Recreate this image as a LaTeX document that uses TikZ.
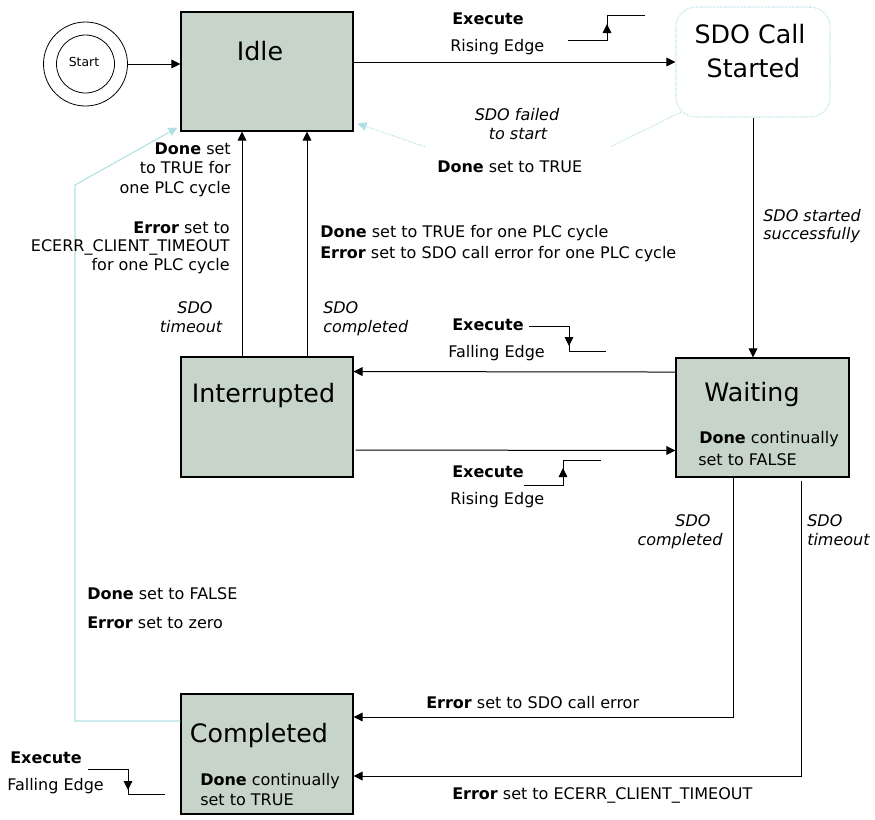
\documentclass[tikz,border=0pt]{standalone}
\usepackage{fontspec}
\setmainfont{DejaVu Sans}
\usetikzlibrary{arrows.meta}
\definecolor{boxfill}{RGB}{199,212,201}
\definecolor{lblue}{RGB}{176,224,230}
\tikzset{
  state/.style={draw=black, fill=boxfill, line width=0.8pt, inner sep=0pt},
  cloud/.style={draw=lblue, densely dotted, fill=white, rounded corners=15pt, line width=0.8pt, inner sep=0pt},
  arr/.style={line width=0.75pt, -{Triangle[length=6.75pt,width=6.5pt]}},
  tipm/.style={line width=0.6pt, -{Triangle[length=6.75pt,width=6.5pt]}},
  sig/.style={line width=0.75pt},
  blueline/.style={draw=lblue, line width=0.8pt, -{Triangle[length=6.75pt,width=6.5pt,fill=lblue]}},
  lbl/.style={font=\fontsize{12}{14.25}\selectfont, inner sep=0pt},
  ilbl/.style={font=\fontsize{12}{14.25}\selectfont\itshape, inner sep=0pt},
  big/.style={font=\fontsize{19}{25.5}\selectfont, inner sep=0pt},
}
\begin{document}
\begin{tikzpicture}[x=0.75pt,y=-0.75pt]
\useasboundingbox (0,0) rectangle (875,819);

% ---------- connectors drawn first (under labels) ----------
% states
\node[state, minimum width=129pt, minimum height=89.25pt] (idle) at (267,71.5) {};
\node[state, minimum width=129pt, minimum height=90pt] (interrupted) at (267,417) {};
\node[state, minimum width=129.75pt, minimum height=89.25pt] (waiting) at (762.5,417.5) {};
\node[state, minimum width=129pt, minimum height=90pt] (completed) at (267,754) {};
\node[cloud, minimum width=115.5pt, minimum height=82.5pt] (sdo) at (753,62) {};

% start
\node[circle, draw, line width=0.6pt, minimum size=63pt, inner sep=0pt] (start) at (85.5,64) {};
\node[circle, draw, line width=0.6pt, minimum size=43.5pt, inner sep=0pt] (startin) at (start.center) {};
\node[font=\fontsize{9.3}{11}\selectfont, inner sep=0pt, anchor=base] (startt) at (84,66) {Start};

% main connectors
\draw[arr] (start.east) -- (start.east -| idle.west);
\draw[arr] (idle.east |- sdo.west) -- (sdo.west);
\draw[arr] (sdo.south) -- (sdo.south |- waiting.north);
\draw[arr] ([xshift=-18.75pt]interrupted.north) -- ([xshift=-18.75pt]idle.south);
\draw[arr] ([xshift=30pt]interrupted.north) -- ([xshift=30pt]idle.south);
\draw[arr] ([yshift=34.1pt]waiting.west) -- ([yshift=34.1pt]interrupted.east);
\draw[arr] ([xshift=1.5pt,yshift=-24.75pt]interrupted.east) -- ([yshift=-24.75pt]waiting.west);
\draw[arr] ([xshift=-21.4pt]waiting.south) |- ([yshift=27.75pt]completed.east);
\draw[arr] ([xshift=28.9pt,yshift=-2.25pt]waiting.south) |- ([yshift=-16.5pt]completed.east);

% light blue connectors
\coordinate (lb1) at (75,721);
\coordinate (lb2) at (75,185);
\draw[blueline] ([yshift=24.75pt]completed.west) -- (lb1) -- (lb2) -- ([xshift=-2.25pt,yshift=3pt]idle.south west);
\coordinate (fs1) at (610,147);
\coordinate (fs2) at (426,147);
\draw[blueline, densely dotted] ([xshift=4pt,yshift=4pt]sdo.south west) -- (fs1) -- (fs2) -- ([xshift=3pt,yshift=6pt]idle.south east);

% ---------- state texts ----------
\node[big, anchor=base] (idlet) at (260,60) {Idle};
\node[big, anchor=base] (sdot1) at (750,43) {SDO Call};
\node[big, anchor=base] (sdot2) at (753.5,77) {Started};
\node[big, anchor=base] (intt) at (263.5,402) {Interrupted};
\node[big, anchor=base] (waitt) at (752,401.5) {Waiting};
\node[big, anchor=base] (compt) at (259,742.5) {Completed};
\node[lbl, anchor=base west] (wd1) at (699,443) {\bfseries Done\mdseries{} continually};
\node[lbl, anchor=base west] (wd2) at (698,465) {set to FALSE};
\node[lbl, anchor=base west] (cd1) at (200,785) {\bfseries Done\mdseries{} continually};
\node[lbl, anchor=base west] (cd2) at (200,805) {set to TRUE};

% ---------- edge signal symbols ----------
% top rising edge
\draw[sig] (568,40) -- (607,40) -- (607,15) -- (645,15);
\draw[tipm] (607,36) -- (607,24);
% middle falling edge
\draw[sig] (529,326) -- (569,326) -- (569,351) -- (606,351);
\draw[tipm] (569,333) -- (569,346);
% middle rising edge
\draw[sig] (524,485) -- (563,485) -- (563,460) -- (601,460);
\draw[tipm] (563,481) -- (563,468);
% left falling edge
\draw[sig] (88,769) -- (128,769) -- (128,794) -- (165,794);
\draw[tipm] (128,777) -- (128,790);

% ---------- labels ----------
\node[lbl, anchor=base west] (ex1) at (452,24) {\bfseries Execute};
\node[lbl, anchor=base west] (re1) at (450,51) {Rising Edge};

\node[fill=white, minimum width=138pt, minimum height=42pt, inner sep=0pt] (failbg) at (518,126) {};
\node[ilbl, anchor=base] (fail1) at (517,120) {SDO failed};
\node[ilbl, anchor=base] (fail2) at (518,139) {to start};
\node[lbl, anchor=base west] (fail3) at (437,172) {\bfseries Done\mdseries{} set to TRUE};

\node[lbl, anchor=base east] (lt1) at (231,154) {\bfseries Done\mdseries{} set};
\node[lbl, anchor=base east] (lt2) at (231,173) {to TRUE for};
\node[lbl, anchor=base east] (lt3) at (231,193) {one PLC cycle};
\node[lbl, anchor=base east] (lt4) at (230,233) {\bfseries Error\mdseries{} set to};
\node[lbl, anchor=base east] (lt5) at (230,251) {ECERR\_CLIENT\_TIMEOUT};
\node[lbl, anchor=base east] (lt6) at (230,270) {for one PLC cycle};
\node[ilbl, anchor=base] (to1) at (195,313) {SDO};
\node[ilbl, anchor=base] (to2) at (191,332) {timeout};

\node[ilbl, anchor=base west] (co1) at (323,313) {SDO};
\node[ilbl, anchor=base west] (co2) at (323,332) {completed};
\node[lbl, anchor=base west] (dn1) at (320,237) {\bfseries Done\mdseries{} set to TRUE for one PLC cycle};
\node[lbl, anchor=base west] (dn2) at (320,258) {\bfseries Error\mdseries{} set to SDO call error for one PLC cycle};

\node[ilbl, anchor=base west] (ss1) at (763,221) {SDO started};
\node[ilbl, anchor=base west] (ss2) at (763,239) {successfully};

\node[lbl, anchor=base west] (ex2) at (452,330) {\bfseries Execute};
\node[lbl, anchor=base west] (fe2) at (448,357) {Falling Edge};
\node[lbl, anchor=base west] (ex3) at (452,477) {\bfseries Execute};
\node[lbl, anchor=base west] (re3) at (450,504) {Rising Edge};

\node[ilbl, anchor=base] (wc1) at (693,526) {SDO};
\node[ilbl, anchor=base] (wc2) at (680,545) {completed};
\node[ilbl, anchor=base west] (wt1) at (807,526) {SDO};
\node[ilbl, anchor=base west] (wt2) at (807,545) {timeout};

\node[lbl, anchor=base west] (df1) at (87,599) {\bfseries Done\mdseries{} set to FALSE};
\node[lbl, anchor=base west] (df2) at (87,628) {\bfseries Error\mdseries{} set to zero};

\node[lbl, anchor=base west] (ce1) at (426,708) {\bfseries Error\mdseries{} set to SDO call error};
\node[lbl, anchor=base west] (ce2) at (452,799) {\bfseries Error\mdseries{} set to ECERR\_CLIENT\_TIMEOUT};

\node[lbl, anchor=base west] (ex4) at (10,763) {\bfseries Execute};
\node[lbl, anchor=base west] (fe4) at (7,790) {Falling Edge};
\end{tikzpicture}
\end{document}
